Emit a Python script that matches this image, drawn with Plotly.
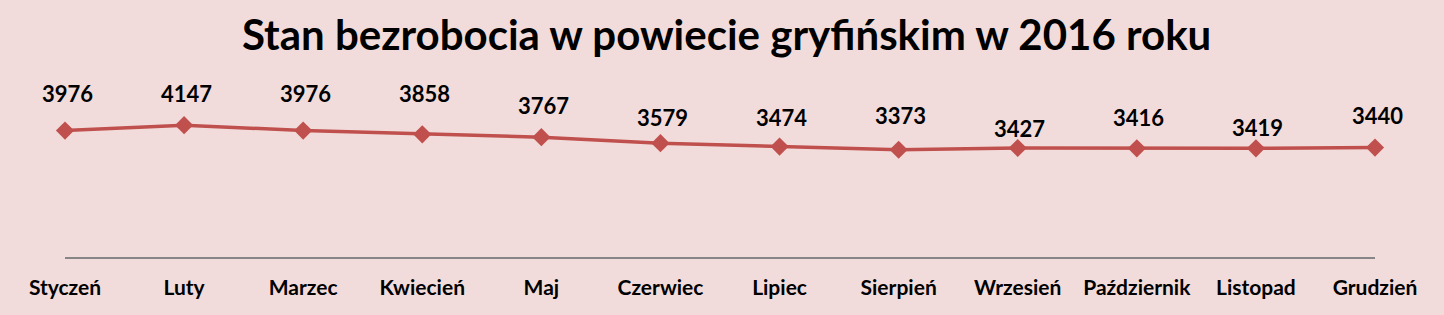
import plotly.graph_objects as go

# Monthly unemployment in Gryfino county, 2016
months = ["Styczeń", "Luty", "Marzec", "Kwiecień", "Maj", "Czerwiec",
          "Lipiec", "Sierpień", "Wrzesień", "Październik", "Listopad", "Grudzień"]
unemployed = [3976, 4147, 3976, 3858, 3767, 3579, 3474, 3373, 3427, 3416, 3419, 3440]

# vertical lift (px) of each value label above its marker
label_lift = [37, 32, 37, 41, 32, 26, 29, 34, 20, 31, 21, 32]

BG = "#F2DCDB"
RED = "#C0504D"
FONT = "Lato, 'Open Sans', sans-serif"

x = list(range(len(months)))

fig = go.Figure()
fig.add_trace(go.Scatter(
    x=x, y=unemployed, mode="lines+markers",
    line=dict(color=RED, width=3.5),
    marker=dict(symbol="diamond", size=14, color=RED),
    cliponaxis=False, hoverinfo="skip", showlegend=False,
))

for xi, v, lift in zip(x, unemployed, label_lift):
    fig.add_annotation(
        x=xi, y=v, xref="x", yref="y", text=f"<b>{v}</b>",
        showarrow=False, yshift=lift, xshift=2,
        font=dict(family=FONT, size=22, color="#000000"),
    )

# chart title, centred in the band above the plot area
fig.add_annotation(
    x=0.505, xref="paper", yref="paper", y=1 + (98 - 34) / 159, yanchor="middle",
    text="<b>Stan bezrobocia w powiecie gryfińskim w 2016 roku</b>",
    showarrow=False, font=dict(family=FONT, size=42, color="#000000"),
)

fig.update_layout(
    width=1444, height=315,
    margin=dict(l=65, r=69, t=98, b=58),
    paper_bgcolor=BG, plot_bgcolor=BG,
    xaxis=dict(
        range=[0, 11], tickvals=x, ticktext=[f"<b>{m}</b>" for m in months],
        showgrid=False, zeroline=False, showline=True, linecolor="#868686", linewidth=1.5,
        ticks="", ticklabelstandoff=11,
        tickfont=dict(family=FONT, size=21, color="#000000"),
        fixedrange=True,
    ),
    yaxis=dict(range=[0, 5000], visible=False, fixedrange=True),
)

fig.write_html("out.html")
